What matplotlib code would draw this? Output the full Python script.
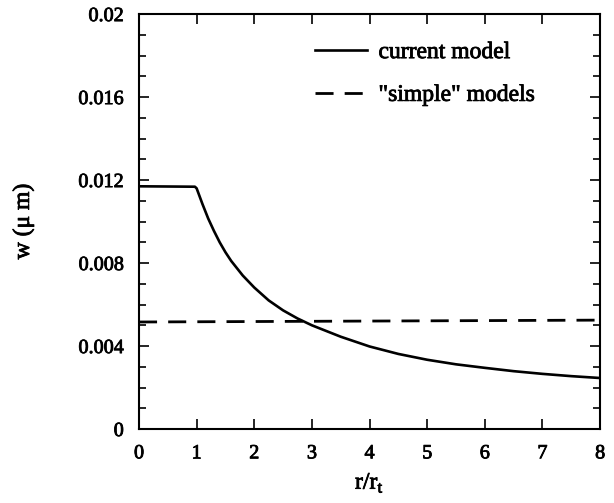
import matplotlib
matplotlib.use("Agg")
import matplotlib.pyplot as plt
import matplotlib.patheffects as pe
from matplotlib.ticker import MultipleLocator

plt.rcParams['font.family'] = ['Liberation Serif', 'DejaVu Serif']
plt.rcParams['mathtext.fontset'] = 'custom'
plt.rcParams['mathtext.rm'] = 'Liberation Serif'

# current model
r_cur = [0, 0.5, 0.97, 1.0, 1.1, 1.2, 1.3, 1.4, 1.5, 1.6, 1.8, 2.0, 2.25,
         2.5, 2.75, 3.0, 3.5, 4.0, 4.5, 5.0, 5.5, 6.0, 6.5, 7.0, 7.5, 8.0]
w_cur = [0.0117, 0.01169, 0.01168, 0.0116, 0.01085, 0.01015, 0.00955,
         0.00900, 0.00852, 0.00810, 0.00740, 0.00682, 0.00620, 0.00572,
         0.00533, 0.00500, 0.00445, 0.00398, 0.00362, 0.00334, 0.00312,
         0.00295, 0.00279, 0.00266, 0.00255, 0.00246]

# "simple" models
r_simple = [0, 8]
w_simple = [0.00516, 0.00525]

y_ticks = [0, 0.004, 0.008, 0.012, 0.016, 0.02]
y_labels = ['0', '0.004', '0.008', '0.012', '0.016', '0.02']

# scanned look: slightly heavier strokes on the text
ink = [pe.withStroke(linewidth=0.6, foreground='black')]

fig = plt.figure(figsize=(6.14, 5.03), dpi=100)
ax = fig.add_axes([0.2264, 0.147, 0.751, 0.825])

ax.plot(r_cur, w_cur, color='black', lw=1.9, label='current model')
ax.plot(r_simple, w_simple, color='black', lw=2, ls=(0, (6.5, 4)),
        label='"simple" models')

ax.set_xlim(0, 8)
ax.set_ylim(0, 0.02)
ax.set_xticks(range(9))
ax.set_yticks(y_ticks)
ax.set_yticklabels(y_labels)
ax.yaxis.set_minor_locator(MultipleLocator(0.001))
ax.tick_params(which='both', direction='in', top=True, right=True,
               labelsize=14.5, width=1.2, pad=11)
ax.tick_params(which='major', length=7)
ax.tick_params(which='minor', length=5)
for lab in ax.get_xticklabels() + ax.get_yticklabels():
    lab.set_path_effects(ink)
for s in ax.spines.values():
    s.set_linewidth(1.5)

ax.set_xlabel(r'r/r$_\mathrm{t}$', fontsize=17, labelpad=6, path_effects=ink)
ax.set_ylabel('w (\u03bc m)', fontsize=17, labelpad=32, path_effects=ink)

leg = ax.legend(loc='upper left', bbox_to_anchor=(0.335, 0.985), frameon=False,
                fontsize=17, handlelength=2.2, handletextpad=0.5,
                labelspacing=0.9)
for t in leg.get_texts():
    t.set_path_effects(ink)

fig.savefig('out.png', dpi=100)
